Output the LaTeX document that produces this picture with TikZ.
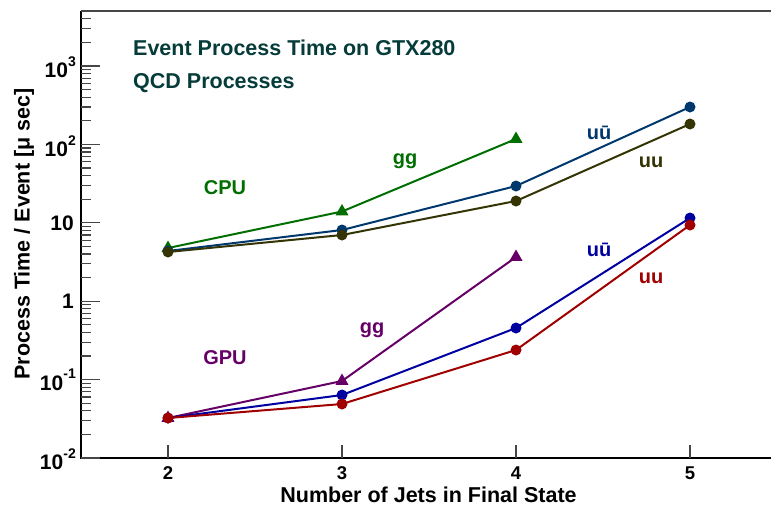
\documentclass[tikz,border=0pt]{standalone}
\usepackage{fontspec}
\setmainfont{Liberation Sans}
\usetikzlibrary{shapes.geometric}

\definecolor{titlecol}{RGB}{5,60,58}
\definecolor{cpugg}{RGB}{0,110,0}
\definecolor{cpuub}{RGB}{0,56,110}
\definecolor{cpuuu}{RGB}{52,52,5}
\definecolor{gpugg}{RGB}{102,0,102}
\definecolor{gpuub}{RGB}{0,0,160}
\definecolor{gpuuu}{RGB}{160,0,0}
\definecolor{tickgray}{RGB}{70,70,70}

\newcommand{\sz}[1]{\fontsize{#1}{#1}\selectfont}
\newcommand{\tenpow}[1]{10\raisebox{0.55em}{\sz{14}#1}}

\tikzset{
  tickline/.style={tickgray, line width=1.3pt},
  axisline/.style={black, line width=2pt},
  ylab/.style={anchor=east, inner sep=0pt, font=\sz{21}\bfseries},
  xlab/.style={anchor=center, inner sep=0pt, font=\sz{18.5}\bfseries},
  series/.style={line width=2pt},
  dotmark/.style={circle, fill=#1, draw=none, minimum size=11pt, inner sep=0pt},
  trimark/.style={regular polygon, regular polygon sides=3, fill=#1, draw=none, minimum size=15pt, inner sep=0pt},
  annot/.style={inner sep=0pt, font=\sz{20}\bfseries},
  axtitle/.style={inner sep=0pt, font=\sz{21.5}\bfseries},
  heading/.style={anchor=base west, inner sep=0pt, font=\sz{21.5}\bfseries, text=titlecol}
}

\begin{document}
\begin{tikzpicture}[x=1pt, y=-1pt]
\useasboundingbox (0,0) rectangle (771,507);

% frame
\draw[tickgray, line width=1.5pt] (81,11) -- (771,11);
\draw[axisline] (81,11) -- (81,458) -- (771,458);

% logarithmic y ticks
\foreach \d in {0,...,5} {
  \pgfmathsetmacro\yy{458-\d*78.4}
  \draw[tickline] (81,\yy) -- (100,\yy);
  \foreach \m in {2,...,9} {
    \pgfmathsetmacro\ym{458-(\d+log10(\m))*78.4}
    \ifdim\ym pt>11pt
      \draw[tickline] (81,\ym) -- (91,\ym);
    \fi
  }
}
\node[ylab] (ym2) at (76,459) {\tenpow{-2}};
\node[ylab] (ym1) at (76,380) {\tenpow{-1}};
\node[ylab] (y0)  at (74,301) {1};
\node[ylab] (y1)  at (74,223) {10};
\node[ylab] (y2)  at (76,146) {\tenpow{2}};
\node[ylab] (y3)  at (76,67)  {\tenpow{3}};

% x ticks
\foreach \xx/\lab in {168/2,342/3,516/4,690/5} {
  \draw[tickline] (\xx,445) -- (\xx,458);
  \node[xlab] (x\lab) at (\xx,473) {\lab};
}

% axis titles
\node[axtitle] (xtitle) at (428.5,495) {Number of Jets in Final State};
\node[axtitle, rotate=90] (ytitle) at (24,234) {Process Time / Event [μ sec]};

% headings
\node[heading] (head1) at (133,55) {Event Process Time on GTX280};
\node[heading] (head2) at (133,88) {QCD Processes};

% data points
\coordinate (cg2) at (168,248);   \coordinate (cg3) at (342,211.5); \coordinate (cg4) at (516,139);
\coordinate (cb2) at (168,251);   \coordinate (cb3) at (342,230);   \coordinate (cb4) at (516,186); \coordinate (cb5) at (690,107);
\coordinate (cu2) at (168,252);   \coordinate (cu3) at (342,235);   \coordinate (cu4) at (516,201); \coordinate (cu5) at (690,124);
\coordinate (gg2) at (168,418);   \coordinate (gg3) at (342,381);   \coordinate (gg4) at (516,257);
\coordinate (gb2) at (168,418);   \coordinate (gb3) at (342,395);   \coordinate (gb4) at (516,328); \coordinate (gb5) at (690,218);
\coordinate (gu2) at (168,418);   \coordinate (gu3) at (342,404);   \coordinate (gu4) at (516,350); \coordinate (gu5) at (690,225);

% CPU series
\draw[series, cpugg] (cg2) -- (cg3) -- (cg4);
\foreach \p in {cg2,cg3,cg4} \node[trimark=cpugg] (m\p) at (\p) {};
\draw[series, cpuub] (cb2) -- (cb3) -- (cb4) -- (cb5);
\foreach \p in {cb2,cb3,cb4,cb5} \node[dotmark=cpuub] (m\p) at (\p) {};
\draw[series, cpuuu] (cu2) -- (cu3) -- (cu4) -- (cu5);
\foreach \p in {cu2,cu3,cu4,cu5} \node[dotmark=cpuuu] (m\p) at (\p) {};

% GPU series
\draw[series, gpugg] (gg2) -- (gg3) -- (gg4);
\foreach \p in {gg2,gg3,gg4} \node[trimark=gpugg] (m\p) at (\p) {};
\draw[series, gpuub] (gb2) -- (gb3) -- (gb4) -- (gb5);
\foreach \p in {gb2,gb3,gb4,gb5} \node[dotmark=gpuub] (m\p) at (\p) {};
\draw[series, gpuuu] (gu2) -- (gu3) -- (gu4) -- (gu5);
\foreach \p in {gu2,gu3,gu4,gu5} \node[dotmark=gpuuu] (m\p) at (\p) {};

% series labels
\node[annot, text=cpugg] (lcpu) at (225,187.5) {CPU};
\node[annot, text=cpugg] (lcgg) at (405,161) {gg};
\node[annot, text=cpuub] (lcub) at (599,133) {uū};
\node[annot, text=cpuuu] (lcuu) at (651,162) {uu};
\node[annot, text=gpugg] (lgpu) at (225,357.5) {GPU};
\node[annot, text=gpugg] (lggg) at (372,330) {gg};
\node[annot, text=gpuub] (lgub) at (599,250) {uū};
\node[annot, text=gpuuu] (lguu) at (651,278) {uu};
\end{tikzpicture}
\end{document}
